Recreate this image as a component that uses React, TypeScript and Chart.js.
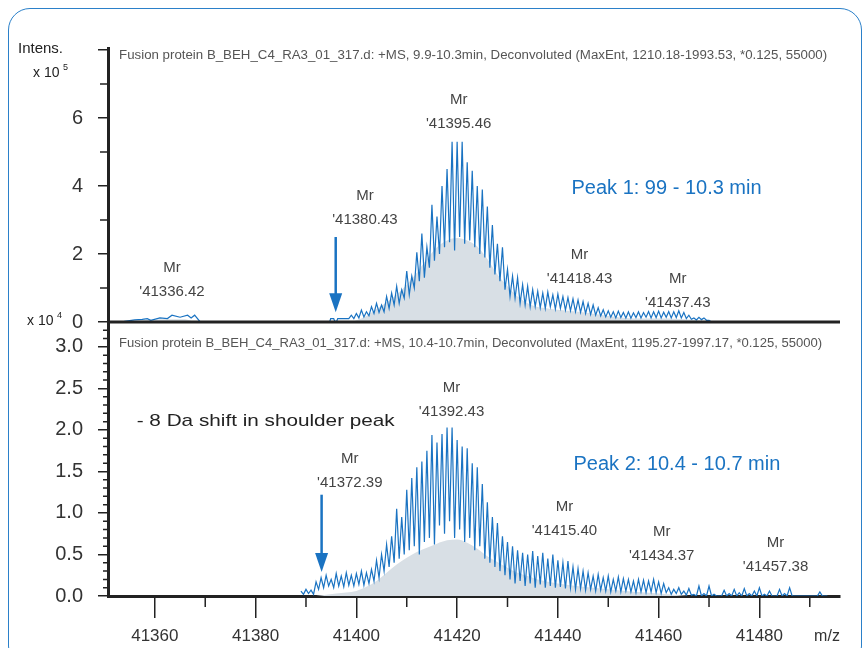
import React, { useEffect, useRef } from "react";
import { Chart, registerables } from "chart.js";

Chart.register(...registerables);

const FONT = "'Liberation Sans', Arial, Helvetica, sans-serif";
const BLUE = "#1a73c2";
const FILL = "#d8dfe5";
const AXIS = "#222222";

// ---------- axes ----------
const X_MIN = 41350.7;
const X_MAX = 41496;
const xMajorTicks = [41360, 41380, 41400, 41420, 41440, 41460, 41480];
const xMinorTicks = [41370, 41390, 41410, 41430, 41450, 41470, 41490];

const TOP_MAX = 8.06; // x10^5
const topMajorTicks = [0, 2, 4, 6, 8];
const topMinorTicks = [1, 3, 5, 7];

const BOT_MAX = 3.3; // x10^4
const botMajorTicks = [0, 0.5, 1, 1.5, 2, 2.5, 3];
const botMinorTicks = [
  0.1, 0.2, 0.3, 0.4, 0.6, 0.7, 0.8, 0.9, 1.1, 1.2, 1.3, 1.4, 1.6, 1.7, 1.8, 1.9,
  2.1, 2.2, 2.3, 2.4, 2.6, 2.7, 2.8, 2.9, 3.1, 3.2,
];

// ---------- top spectrum (9.9-10.3 min), intensity x10^5 ----------
const topLowMz = [
  41353.5, 41354, 41356, 41357.5, 41358.5, 41359.2, 41361, 41362.5, 41363.4, 41365,
  41366.5, 41367.2, 41367.9, 41369, 41394.7, 41394.9, 41395.5, 41395.7, 41396.1,
  41396.3, 41398.5,
];
const topLowInt = [
  0, 0.02, 0.06, 0.08, 0.1, 0.05, 0.12, 0.1, 0.2, 0.14, 0.2, 0.12, 0.2, 0, 0, 0.1, 0.1,
  0.02, 0.02, 0.1, 0.1,
];
const TOP_START = 41399;
const topPeaks = [
  0.2, 0.25, 0.35, 0.3, 0.45, 0.55, 0.5, 0.75, 0.85, 1.05,
  0.95, 1.5, 1.35, 2.05, 2.6, 2.2, 3.45, 3.1, 4.0, 4.5,
  5.3, 5.3, 5.3, 4.7, 4.45, 4.0, 3.9, 3.4, 2.85, 2.3,
  2.2, 1.55, 1.35, 1.3, 1.1, 1.05, 0.95, 0.9, 0.85, 0.88,
  0.8, 0.82, 0.75, 0.72, 0.68, 0.65, 0.6, 0.55, 0.5, 0.42,
  0.36, 0.33, 0.3, 0.32, 0.28, 0.3, 0.27, 0.3, 0.28, 0.31,
  0.3, 0.32, 0.29, 0.31, 0.3, 0.33, 0.28, 0.2, 0.12, 0.14,
  0.12, 0.05,
];
const topValleys = [
  0.1, 0.12, 0.15, 0.18, 0.25, 0.28, 0.3, 0.4, 0.5, 0.55,
  0.7, 0.8, 1.0, 1.2, 1.3, 1.6, 1.8, 2.0, 2.2, 2.35,
  2.1, 2.5, 2.3, 2.4, 2.2, 2.0, 1.9, 1.6, 1.4, 1.2,
  0.95, 0.75, 0.7, 0.55, 0.5, 0.45, 0.45, 0.42, 0.4, 0.45,
  0.38, 0.4, 0.35, 0.33, 0.3, 0.28, 0.25, 0.22, 0.2, 0.18,
  0.15, 0.14, 0.12, 0.13, 0.12, 0.11, 0.13, 0.12, 0.14, 0.12,
  0.13, 0.12, 0.14, 0.12, 0.13, 0.12, 0.1, 0.08, 0.06, 0.07,
  0.05, 0.0,
];
const topFillMz = [
  41355, 41358, 41362, 41366, 41368, 41399, 41400, 41402, 41404, 41406, 41408, 41410,
  41412, 41414, 41416, 41418, 41420, 41422, 41424, 41426, 41428, 41430, 41432, 41434,
  41436, 41438, 41440, 41444, 41448, 41452, 41456, 41460, 41464, 41468, 41470,
];
const topFillInt = [
  0, 0.05, 0.08, 0.08, 0, 0, 0.05, 0.18, 0.38, 0.58, 0.8, 1.1,
  1.45, 1.85, 2.2, 2.4, 2.47, 2.4, 2.22, 1.85, 1.4, 1.05, 0.75, 0.55,
  0.44, 0.4, 0.36, 0.3, 0.22, 0.14, 0.1, 0.1, 0.09, 0.05, 0,
];

// ---------- bottom spectrum (10.4-10.7 min), intensity x10^4 ----------
const BOT_START = 41389;
const botPeaks = [
  0.06, 0.08, 0.07, 0.17, 0.22, 0.25, 0.2, 0.27, 0.24, 0.28,
  0.25, 0.27, 0.3, 0.28, 0.32, 0.43, 0.5, 0.62, 0.72, 1.05,
  0.95, 1.28, 1.42, 1.55, 1.62, 1.75, 1.94, 1.85, 1.95, 2.03,
  2.03, 1.88, 1.8, 1.78, 1.6, 1.55, 1.35, 1.13, 0.95, 0.88,
  0.72, 0.65, 0.6, 0.55, 0.52, 0.5, 0.54, 0.48, 0.52, 0.45,
  0.5, 0.43, 0.4, 0.42, 0.35, 0.33, 0.3, 0.28, 0.24, 0.26,
  0.22, 0.24, 0.2, 0.23, 0.21, 0.2, 0.18, 0.2, 0.19, 0.18,
  0.2, 0.17, 0.15, 0.1, 0.08, 0.1, 0.06, 0.09, 0.02, 0.12,
  0.03, 0.12, 0.02, 0.0, 0.07, 0.03, 0.08, 0.04, 0.09, 0.03,
  0.06, 0.1, 0.02, 0.06, 0.0, 0.08, 0.03, 0.1, 0.0, 0.0,
  0.0, 0.0, 0.0, 0.05, 0.0,
];
const botValleys = [
  0.02, 0.03, 0.02, 0.08, 0.1, 0.12, 0.1, 0.12, 0.11, 0.13,
  0.12, 0.14, 0.13, 0.15, 0.18, 0.22, 0.3, 0.35, 0.4, 0.45,
  0.5, 0.55, 0.6, 0.5, 0.65, 0.7, 0.62, 0.85, 0.75, 0.9,
  0.7, 0.8, 0.65, 0.7, 0.55, 0.6, 0.45, 0.4, 0.35, 0.3,
  0.25, 0.2, 0.15, 0.18, 0.12, 0.15, 0.1, 0.14, 0.1, 0.12,
  0.1, 0.11, 0.09, 0.1, 0.08, 0.09, 0.07, 0.08, 0.06, 0.07,
  0.06, 0.05, 0.06, 0.05, 0.06, 0.05, 0.04, 0.05, 0.04, 0.05,
  0.04, 0.03, 0.04, 0.02, 0.03, 0.02, 0.01, 0.01, 0, 0,
  0, 0, 0, 0, 0, 0, 0, 0, 0, 0,
  0, 0, 0, 0, 0, 0, 0, 0, 0, 0,
  0, 0, 0, 0, 0,
];
const botFillMz = [
  41392, 41396, 41400, 41402, 41404, 41406, 41408, 41410, 41412, 41414, 41416, 41418,
  41420, 41422, 41424, 41426, 41428, 41430, 41432, 41434, 41436, 41440, 41445, 41450,
  41455, 41460, 41466,
];
const botFillInt = [
  0, 0.03, 0.06, 0.11, 0.18, 0.28, 0.38, 0.46, 0.53, 0.58, 0.63, 0.67,
  0.68, 0.64, 0.57, 0.48, 0.41, 0.34, 0.28, 0.24, 0.2, 0.15, 0.11, 0.08,
  0.05, 0.03, 0,
];

// ---------- annotations ----------
const titleTop =
  "Fusion protein B_BEH_C4_RA3_01_317.d: +MS, 9.9-10.3min, Deconvoluted (MaxEnt, 1210.18-1993.53, *0.125, 55000)";
const titleBot =
  "Fusion protein B_BEH_C4_RA3_01_317.d: +MS, 10.4-10.7min, Deconvoluted (MaxEnt, 1195.27-1997.17, *0.125, 55000)";

const topMrMz = [41363.4, 41401.7, 41420.3, 41444.3, 41463.8];
const topMrInt = [0.88, 3.0, 5.82, 1.26, 0.56];
const topMrText = ["'41336.42", "'41380.43", "'41395.46", "'41418.43", "'41437.43"];

const botMrMz = [41418.9, 41398.7, 41441.3, 41460.6, 41483.2];
const botMrInt = [2.22, 1.36, 0.78, 0.48, 0.35];
const botMrText = ["'41392.43", "'41372.39", "'41415.40", "'41434.37", "'41457.38"];

const peak1Text = "Peak 1: 99 - 10.3 min";
const peak2Text = "Peak 2: 10.4 - 10.7 min";
const shiftText = "- 8 Da shift in shoulder peak";

function zigzag(start: number, peaks: number[], valleys: number[]) {
  const pts: { x: number; y: number }[] = [];
  for (let i = 0; i < peaks.length; i++) {
    pts.push({ x: start + i, y: peaks[i] });
    pts.push({ x: start + i + 0.5, y: valleys[i] });
  }
  return pts;
}
function pairs(xs: number[], ys: number[]) {
  return xs.map((x, i) => ({ x, y: ys[i] }));
}

function fitText(ctx: CanvasRenderingContext2D, text: string, x: number, y: number, width: number) {
  const w = ctx.measureText(text).width;
  ctx.save();
  ctx.translate(x, y);
  ctx.scale(width / w, 1);
  ctx.textAlign = "left";
  ctx.fillText(text, 0, 0);
  ctx.restore();
}

const annotPlugin = {
  id: "annot",
  afterDatasetsDraw(chart: any) {
    const { ctx, chartArea: ca } = chart;
    const x = chart.scales.x;
    const y1 = chart.scales.y1;
    const y2 = chart.scales.y2;
    ctx.save();

    // baseline of the upper panel
    ctx.strokeStyle = AXIS;
    ctx.lineWidth = 3;
    const yb = y1.getPixelForValue(0);
    ctx.beginPath();
    ctx.moveTo(ca.left, yb);
    ctx.lineTo(ca.right, yb);
    ctx.stroke();

    // minor ticks
    ctx.lineWidth = 1.5;
    ctx.beginPath();
    topMinorTicks.forEach((v) => {
      const p = y1.getPixelForValue(v);
      ctx.moveTo(ca.left - 8, p);
      ctx.lineTo(ca.left, p);
    });
    botMinorTicks.forEach((v) => {
      const p = y2.getPixelForValue(v);
      ctx.moveTo(ca.left - 5, p);
      ctx.lineTo(ca.left, p);
    });
    xMinorTicks.forEach((v) => {
      const p = x.getPixelForValue(v);
      ctx.moveTo(p, ca.bottom);
      ctx.lineTo(p, ca.bottom + 11);
    });
    ctx.stroke();

    // panel titles
    ctx.fillStyle = "#555";
    ctx.font = `12.5px ${FONT}`;
    ctx.textBaseline = "middle";
    fitText(ctx, titleTop, x.getPixelForValue(41352.9), y1.getPixelForValue(7.85), 708);
    fitText(ctx, titleBot, x.getPixelForValue(41352.9), y2.getPixelForValue(3.04), 703);

    // Mr labels
    ctx.fillStyle = "#444";
    ctx.font = `15px ${FONT}`;
    ctx.textAlign = "center";
    const drawMr = (mz: number[], iv: number[], txt: string[], sc: any) => {
      mz.forEach((m, i) => {
        const px = x.getPixelForValue(m);
        const py = sc.getPixelForValue(iv[i]);
        ctx.fillText(txt[i], px, py);
        ctx.fillText("Mr", px, py - 24);
      });
    };
    drawMr(topMrMz, topMrInt, topMrText, y1);
    drawMr(botMrMz, botMrInt, botMrText, y2);

    // arrows
    const arrow = (mz: number, from: number, to: number, sc: any) => {
      const px = x.getPixelForValue(mz);
      const p0 = sc.getPixelForValue(from);
      const p1 = sc.getPixelForValue(to);
      ctx.strokeStyle = BLUE;
      ctx.fillStyle = BLUE;
      ctx.lineWidth = 2.5;
      ctx.beginPath();
      ctx.moveTo(px, p0);
      ctx.lineTo(px, p1 - 15);
      ctx.stroke();
      ctx.beginPath();
      ctx.moveTo(px - 6.5, p1 - 19);
      ctx.lineTo(px + 6.5, p1 - 19);
      ctx.lineTo(px, p1);
      ctx.closePath();
      ctx.fill();
    };
    arrow(41395.9, 2.5, 0.29, y1);
    arrow(41393.1, 1.22, 0.29, y2);

    // peak labels
    ctx.fillStyle = BLUE;
    ctx.font = `20px ${FONT}`;
    ctx.textAlign = "left";
    ctx.fillText(peak1Text, x.getPixelForValue(41442.7), y1.getPixelForValue(3.94));
    ctx.fillText(peak2Text, x.getPixelForValue(41443.1), y2.getPixelForValue(1.58));

    ctx.fillStyle = "#222";
    ctx.font = `17px ${FONT}`;
    fitText(ctx, shiftText, x.getPixelForValue(41356.4), y2.getPixelForValue(2.1), 258);

    // axis titles
    ctx.fillStyle = "#222";
    ctx.textAlign = "left";
    ctx.font = `15px ${FONT}`;
    ctx.fillText("Intens.", 18, 49);
    ctx.font = `14px ${FONT}`;
    ctx.fillText("x 10", 33, 73);
    ctx.fillText("x 10", 27, 321);
    ctx.font = `9px ${FONT}`;
    ctx.fillText("5", 63, 68);
    ctx.fillText("4", 57, 316);
    ctx.font = `16px ${FONT}`;
    ctx.fillStyle = "#333";
    ctx.textAlign = "center";
    ctx.fillText("m/z", 827, 637);

    ctx.restore();
  },
};

export default function App() {
  const ref = useRef<HTMLCanvasElement>(null);
  useEffect(() => {
    if (!ref.current) return;
    const tickFont = { family: FONT, size: 20 };
    const chart = new Chart(ref.current, {
      type: "line",
      data: {
        datasets: [
          {
            data: [...pairs(topLowMz, topLowInt), ...zigzag(TOP_START, topPeaks, topValleys)],
            yAxisID: "y1",
            borderColor: BLUE,
            borderWidth: 1.2,
            pointRadius: 0,
            fill: false,
            tension: 0,
            order: 0,
          },
          {
            data: zigzag(BOT_START, botPeaks, botValleys),
            yAxisID: "y2",
            borderColor: BLUE,
            borderWidth: 1.2,
            pointRadius: 0,
            fill: false,
            tension: 0,
            order: 0,
          },
          {
            data: pairs(topFillMz, topFillInt),
            yAxisID: "y1",
            borderWidth: 0,
            borderColor: "rgba(0,0,0,0)",
            backgroundColor: FILL,
            pointRadius: 0,
            fill: "origin",
            cubicInterpolationMode: "monotone",
            order: 2,
          },
          {
            data: pairs(botFillMz, botFillInt),
            yAxisID: "y2",
            borderWidth: 0,
            borderColor: "rgba(0,0,0,0)",
            backgroundColor: FILL,
            pointRadius: 0,
            fill: "origin",
            cubicInterpolationMode: "monotone",
            order: 2,
          },
        ],
      } as any,
      options: {
        animation: false,
        responsive: false,
        maintainAspectRatio: false,
        layout: { padding: { top: 48, right: 24, left: 0, bottom: 0 } },
        plugins: { legend: { display: false }, tooltip: { enabled: false } },
        scales: {
          x: {
            type: "linear",
            min: X_MIN,
            max: X_MAX,
            z: 1,
            afterBuildTicks: (s: any) => {
              s.ticks = xMajorTicks.map((v) => ({ value: v }));
            },
            afterFit: (s: any) => {
              s.height = 52;
            },
            ticks: {
              callback: (v: any) => String(v),
              font: { family: FONT, size: 17 },
              color: "#333",
              padding: 8,
              maxRotation: 0,
              autoSkip: false,
            },
            grid: { drawOnChartArea: false, drawTicks: true, tickLength: 22, color: AXIS, lineWidth: 1.5 },
            border: { display: true, color: AXIS, width: 3 },
          },
          y2: {
            type: "linear",
            position: "left",
            stack: "panels",
            stackWeight: 1,
            weight: 0,
            min: 0,
            max: BOT_MAX,
            z: 1,
            afterBuildTicks: (s: any) => {
              s.ticks = botMajorTicks.map((v) => ({ value: v }));
            },
            afterFit: (s: any) => {
              s.width = 108;
            },
            ticks: {
              callback: (v: any) => Number(v).toFixed(1),
              font: tickFont,
              color: "#333",
              padding: 15,
              autoSkip: false,
            },
            grid: { drawOnChartArea: false, drawTicks: true, tickLength: 10, color: AXIS, lineWidth: 1.5 },
            border: { display: true, color: AXIS, width: 3 },
          },
          y1: {
            type: "linear",
            position: "left",
            stack: "panels",
            stackWeight: 1,
            weight: 1,
            min: 0,
            max: TOP_MAX,
            z: 1,
            afterBuildTicks: (s: any) => {
              s.ticks = topMajorTicks.map((v) => ({ value: v }));
            },
            afterFit: (s: any) => {
              s.width = 108;
            },
            ticks: {
              callback: (v: any) => (Number(v) === 8 ? "" : String(v)),
              font: tickFont,
              color: "#333",
              padding: 15,
              autoSkip: false,
            },
            grid: { drawOnChartArea: false, drawTicks: true, tickLength: 10, color: AXIS, lineWidth: 1.5 },
            border: { display: true, color: AXIS, width: 3 },
          },
        },
      } as any,
      plugins: [annotPlugin],
    });
    return () => chart.destroy();
  }, []);

  return (
    <div style={{ position: "absolute", left: 0, top: 0, width: 864, height: 648, overflow: "hidden", background: "#fff" }}>
      <canvas ref={ref} width={864} height={648} style={{ position: "absolute", left: 0, top: 0 }} />
      <div
        style={{
          position: "absolute",
          left: 8,
          top: 8,
          width: 854,
          height: 660,
          boxSizing: "border-box",
          border: "1.5px solid #2b80c9",
          borderRadius: 22,
          pointerEvents: "none",
        }}
      />
    </div>
  );
}
